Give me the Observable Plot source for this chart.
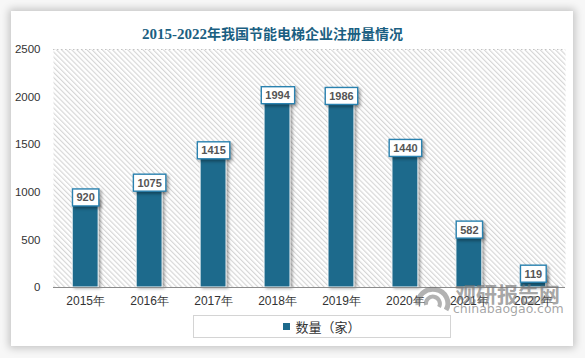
<!DOCTYPE html>
<html><head><meta charset="utf-8">
<script src="https://cdn.jsdelivr.net/npm/d3@7"></script>
<script src="https://cdn.jsdelivr.net/npm/@observablehq/plot@0.6"></script>
<style>
body{margin:0;width:585px;height:358px;background:#f7f7f7;position:relative;overflow:hidden;font-family:"Liberation Sans",Arial,sans-serif;}
#card{position:absolute;left:11px;top:11px;width:562px;height:335px;background:#fff;box-shadow:0 0 8px 2px rgba(0,0,0,0.22);}
#title{position:absolute;left:142px;top:24px;white-space:nowrap;font-weight:bold;color:#1b5f82;font-size:14px;line-height:18px;font-family:"Noto Sans CJK SC",sans-serif;}
#title .num{font-family:"Liberation Serif",serif;font-size:15px;}
#chart{position:absolute;left:0;top:40px;}
#legend{position:absolute;left:193px;top:315px;width:258px;height:23px;border:1px solid #d4d4d4;background:#fff;box-sizing:border-box;display:flex;align-items:center;justify-content:center;font-family:"Noto Sans CJK SC",sans-serif;font-size:13px;color:#333;}
#legend .sw{display:inline-block;width:7px;height:7px;background:#1d6a8c;margin-right:5px;}
.bars rect{filter:drop-shadow(2px 1px 1.5px rgba(0,0,0,0.35));}
.lblbox{filter:drop-shadow(2px 2px 1.5px rgba(0,0,0,0.35));}
#wm{position:absolute;left:412px;top:278px;color:rgba(115,115,115,0.65);pointer-events:none;}
#wm .cn{position:absolute;left:43px;top:0px;font-family:"Noto Sans CJK SC",sans-serif;font-weight:bold;font-size:21px;white-space:nowrap;}
#wm .en{position:absolute;left:41px;top:23px;font-family:"DejaVu Sans",sans-serif;font-size:12.5px;white-space:nowrap;}
#wm svg{position:absolute;left:1px;top:7px;}
</style></head>
<body>
<div id="card"></div>
<div id="title"><span class="num">2015-2022</span>年我国节能电梯企业注册量情况</div>
<div id="chart"></div>
<div id="legend"><span class="sw"></span>数量（家）</div>
<div id="wm"><svg width="40" height="34" viewBox="0 0 40 34"><path d="M5 20 A15 14 0 1 1 33 25" fill="none" stroke="rgba(115,115,115,0.55)" stroke-width="5"/><path d="M13 20 A7 7 0 1 1 26 22" fill="none" stroke="rgba(115,115,115,0.55)" stroke-width="4"/></svg><div class="cn">观研报告网</div><div class="en">chinabaogao.com</div></div>
<script>
const years = ["2015年","2016年","2017年","2018年","2019年","2020年","2021年","2022年"];
const counts = [920,1075,1415,1994,1986,1440,582,119];
const yTicks = [0,500,1000,1500,2000,2500];
const data = years.map((year,i)=>({year, count:counts[i]}));

const chart = Plot.plot({
  width:585, height:275,
  marginLeft:53, marginRight:20, marginTop:9, marginBottom:28,
  style:{fontFamily:"Liberation Sans, Arial, sans-serif", fontSize:"11.5px", color:"#333", background:"transparent", overflow:"visible"},
  x:{domain:years, paddingInner:0.594, paddingOuter:0.3, round:false, label:null},
  y:{domain:[0,2500], label:null},
  marks:[
    Plot.frame({fill:"url(#hatch)", stroke:null}),
    Plot.ruleY([2500],{stroke:"#c4c4c4", strokeDasharray:"1.5,2.5"}),
    Plot.barY(data,{x:"year", y:"count", fill:"#1d6a8c", stroke:"#fff", strokeWidth:1, className:"bars"}),
    Plot.ruleY([0],{stroke:"#8c8c8c", strokeWidth:1.2}),
    Plot.axisX({tickSize:0, tickPadding:9, fontSize:12, label:null}),
    Plot.axisY({ticks:yTicks, tickSize:0, tickPadding:13, tickFormat:d=>String(d), label:null}),
    Plot.text(data,{x:"year", y:"count", text:d=>String(d.count), dy:-2, fontWeight:"bold", fill:"#555", fontSize:11, className:"vlabels"})
  ]
});
document.getElementById("chart").appendChild(chart);

const ns = "http://www.w3.org/2000/svg";
const defs = document.createElementNS(ns,"defs");
defs.innerHTML = '<pattern id="hatch" width="3.6" height="3.6" patternUnits="userSpaceOnUse" patternTransform="rotate(-45)"><rect width="3.6" height="3.6" fill="#fff"/><line x1="0.6" y1="0" x2="0.6" y2="3.6" stroke="#d4d4d4" stroke-width="1.1"/></pattern>';
chart.insertBefore(defs, chart.firstChild);

d3.select(chart).selectAll(".vlabels text").each(function(){
  const b = this.getBBox();
  const r = document.createElementNS(ns,"rect");
  r.setAttribute("x", b.x-4); r.setAttribute("y", b.y-2.5);
  r.setAttribute("width", b.width+8); r.setAttribute("height", b.height+5);
  r.setAttribute("fill","#fff"); r.setAttribute("stroke","#2a82b0"); r.setAttribute("stroke-width","1.4");
  r.setAttribute("class","lblbox");
  const t = this.getAttribute("transform");
  if (t) r.setAttribute("transform", t);
  this.parentNode.insertBefore(r, this);
});
</script>
</body></html>
